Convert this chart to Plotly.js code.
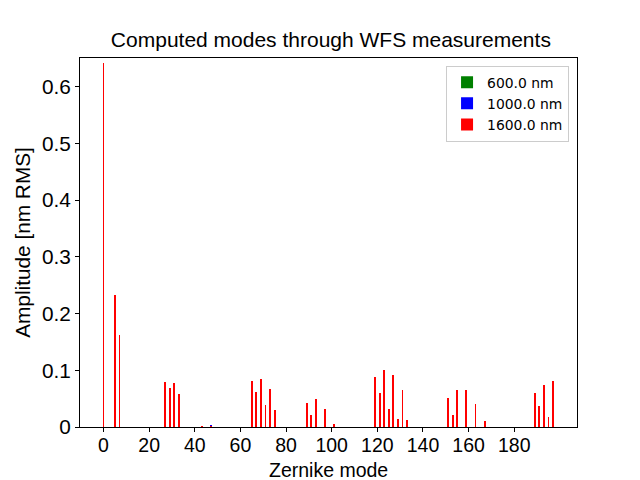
<!DOCTYPE html>
<html>
<head>
<meta charset="utf-8">
<script src="https://cdn.plot.ly/plotly-3.0.1.min.js"></script>
<style>
  html, body { margin: 0; padding: 0; background: #fff; }
  #plot { width: 640px; height: 480px; }
</style>
</head>
<body>
<div id="plot"></div>
<script>
// Zernike modes with a visible amplitude (all others are ~0)
const modes = [0, 5, 7, 27, 29, 31, 33, 43, 47, 65, 67, 69, 71, 73, 75,
  89, 91, 93, 97, 101, 119, 121, 123, 125, 127, 129, 131, 133,
  151, 153, 155, 159, 163, 167, 189, 191, 193, 195, 197];

// amplitudes [nm RMS] per wavelength; red is drawn last and covers the others
const amp1600 = [0.641, 0.233, 0.162, 0.080, 0.069, 0.078, 0.058, 0.0015, 0.0015, 0.081, 0.062, 0.085, 0.039, 0.067, 0.030,
  0.042, 0.021, 0.049, 0.032, 0.005, 0.088, 0.060, 0.100, 0.032, 0.092, 0.014, 0.065, 0.012,
  0.051, 0.021, 0.065, 0.065, 0.041, 0.011, 0.060, 0.037, 0.074, 0.018, 0.081];
const amp1000 = [0.641, 0.233, 0.162, 0.080, 0.069, 0.078, 0.058, 0.0015, 0.0035, 0.081, 0.062, 0.085, 0.039, 0.067, 0.030,
  0.042, 0.021, 0.049, 0.032, 0.005, 0.088, 0.060, 0.100, 0.032, 0.092, 0.014, 0.065, 0.012,
  0.051, 0.021, 0.065, 0.065, 0.041, 0.011, 0.060, 0.037, 0.074, 0.018, 0.081];
const amp600 = [0.641, 0.233, 0.162, 0.080, 0.069, 0.078, 0.058, 0.0015, 0.0015, 0.081, 0.062, 0.085, 0.039, 0.067, 0.030,
  0.042, 0.021, 0.049, 0.032, 0.005, 0.088, 0.060, 0.100, 0.032, 0.092, 0.014, 0.065, 0.012,
  0.051, 0.021, 0.065, 0.065, 0.041, 0.011, 0.060, 0.037, 0.074, 0.018, 0.081];

const seriesNames = ["600.0 nm", "1000.0 nm", "1600.0 nm"];
const seriesColors = ["green", "blue", "red"];
const seriesValues = [amp600, amp1000, amp1600];

const xTicks = [0, 20, 40, 60, 80, 100, 120, 140, 160, 180];
const yTicks = [0, 0.1, 0.2, 0.3, 0.4, 0.5, 0.6];
const yTickText = ["0", "0.1", "0.2", "0.3", "0.4", "0.5", "0.6"];

const mainFont = "Liberation Sans, Arial, Helvetica, sans-serif";

const traces = seriesNames.map((name, i) => ({
  type: "bar",
  name: name,
  x: modes,
  y: seriesValues[i],
  width: 0.8,
  marker: { color: seriesColors[i], line: { width: 0 } },
  hoverinfo: "skip"
}));

const layout = {
  width: 640,
  height: 480,
  margin: { l: 80, r: 63, t: 58, b: 53 },
  paper_bgcolor: "#fff",
  plot_bgcolor: "#fff",
  barmode: "overlay",
  bargap: 0,
  font: { family: mainFont, size: 20.8, color: "#000" },
  title: {
    text: "Computed modes through WFS measurements",
    x: 0.517, xanchor: "center",
    y: 0.918, yanchor: "middle",
    font: { family: mainFont, size: 21, color: "#000" }
  },
  xaxis: {
    range: [-10.3, 207.5],
    tickvals: xTicks,
    ticks: "outside", ticklen: 4, tickwidth: 1, tickcolor: "#000",
    ticklabelstandoff: -3,
    showline: true, linecolor: "#000", linewidth: 1, mirror: true,
    showgrid: false, zeroline: false,
    tickfont: { family: mainFont, size: 19.5 }
  },
  yaxis: {
    range: [0, 0.6503],
    tickvals: yTicks,
    ticktext: yTickText,
    ticks: "outside", ticklen: 4, tickwidth: 1, tickcolor: "#000",
    showline: true, linecolor: "#000", linewidth: 1, mirror: true,
    showgrid: false, zeroline: false,
    tickfont: { family: mainFont, size: 20.8 },
    title: { text: "Amplitude [nm RMS]", standoff: 5, font: { family: mainFont, size: 20.8 } }
  },
  annotations: [{
    text: "Zernike mode",
    xref: "paper", yref: "paper",
    x: 0.5, xanchor: "center",
    y: -0.1165, yanchor: "middle",
    showarrow: false,
    font: { family: mainFont, size: 19.5, color: "#000" }
  }],
  legend: {
    x: 0.984, xanchor: "right",
    y: 0.979, yanchor: "top",
    bgcolor: "rgba(255,255,255,0.8)",
    bordercolor: "#cccccc", borderwidth: 1,
    font: { family: "DejaVu Sans, sans-serif", size: 13.9 },
    traceorder: "normal",
    itemwidth: 30
  },
  showlegend: true
};

Plotly.newPlot("plot", traces, layout, { displayModeBar: false, staticPlot: true });
</script>
</body>
</html>
